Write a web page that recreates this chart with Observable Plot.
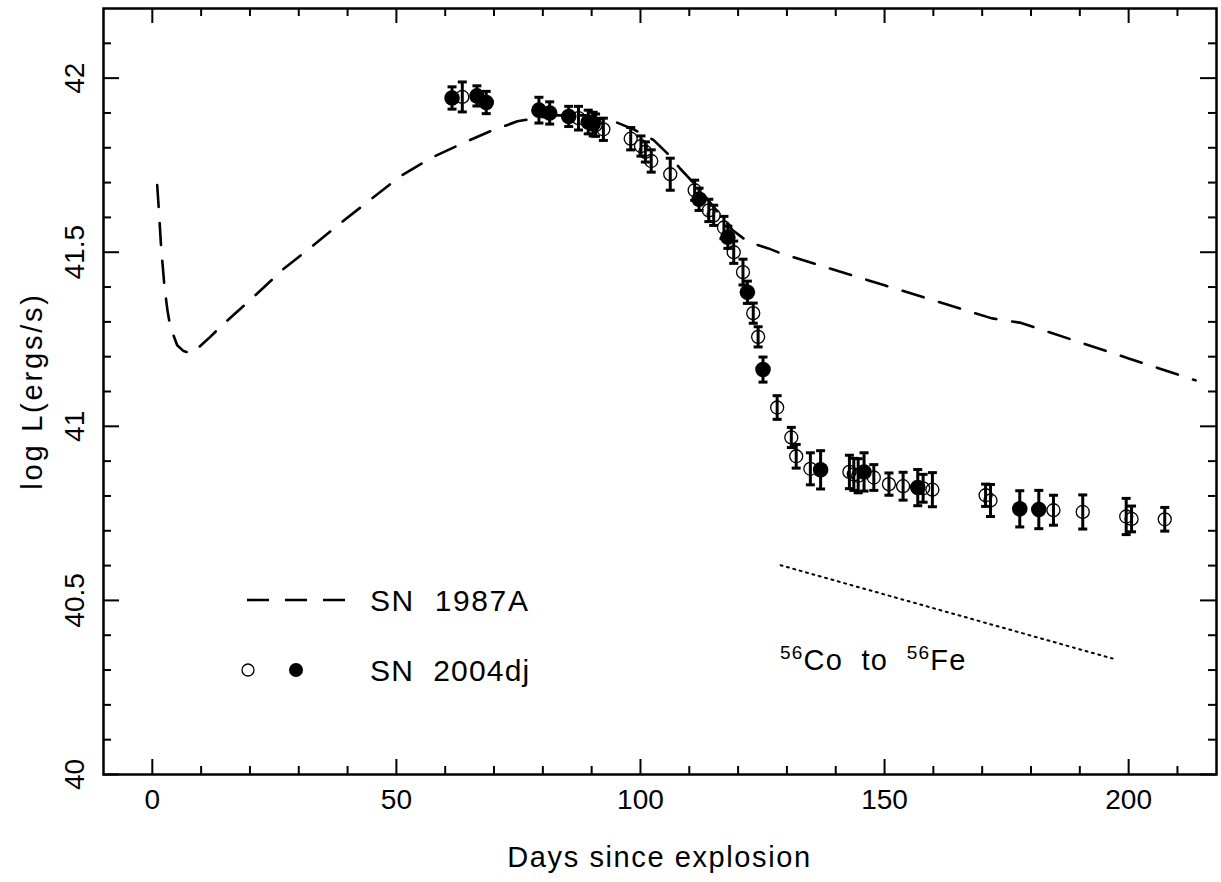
<!DOCTYPE html>
<html><head><meta charset="utf-8">
<script src="https://cdn.jsdelivr.net/npm/d3@7"></script>
<script src="https://cdn.jsdelivr.net/npm/@observablehq/plot@0.6"></script>
<style>
body{margin:0;background:#fff}
#chart{position:relative;width:1221px;height:882px}
</style>
</head><body><div id="chart"></div>
<script>
// SN 2004dj, open circles
const openDays = [63.5,87.3,90.8,92.4,98.0,100.1,101.0,102.2,106.1,111.1,114.0,115.0,117.1,119.1,121.0,123.1,124.1,128.0,130.9,131.9,134.8,142.8,143.7,144.6,147.8,150.9,153.8,157.9,159.8,170.7,171.7,184.6,190.6,199.5,200.6,207.4];
const openLogL = [41.946,41.885,41.865,41.853,41.826,41.805,41.788,41.762,41.724,41.678,41.620,41.606,41.571,41.500,41.443,41.325,41.257,41.054,40.968,40.914,40.878,40.869,40.862,40.858,40.853,40.834,40.828,40.822,40.818,40.802,40.787,40.759,40.754,40.741,40.734,40.733];
const openErr  = [0.043,0.034,0.032,0.032,0.032,0.029,0.029,0.032,0.046,0.029,0.032,0.029,0.032,0.032,0.037,0.029,0.029,0.034,0.029,0.034,0.046,0.048,0.046,0.049,0.037,0.032,0.040,0.040,0.049,0.032,0.046,0.043,0.049,0.052,0.037,0.034];
// SN 2004dj, filled circles
const filledDays = [61.4,66.5,68.4,79.2,81.4,85.3,89.3,90.3,112.0,117.9,121.9,125.1,136.9,145.8,156.8,177.7,181.6];
const filledLogL = [41.943,41.949,41.930,41.908,41.900,41.890,41.874,41.868,41.652,41.543,41.385,41.163,40.875,40.869,40.824,40.763,40.761];
const filledErr  = [0.032,0.029,0.032,0.037,0.032,0.029,0.034,0.034,0.032,0.032,0.032,0.036,0.055,0.055,0.052,0.052,0.055];
// SN 1987A light curve
const sn87Days = [1.0,1.3,1.8,2.5,3.1,3.7,5.1,6.4,8.1,11.5,14.5,20.7,26.8,33.0,39.3,45.7,50.8,57.0,63.1,69.3,74.8,82.0,88.7,94.9,98.7,102.7,105.5,108.2,111.7,118.9,122.1,126.2,128.7,150.0,172.0,178.0,200.0,213.7];
const sn87LogL = [41.693,41.630,41.515,41.400,41.333,41.285,41.233,41.216,41.209,41.252,41.293,41.371,41.451,41.520,41.592,41.662,41.718,41.770,41.810,41.848,41.876,41.893,41.893,41.874,41.852,41.822,41.784,41.739,41.687,41.563,41.529,41.511,41.497,41.405,41.310,41.297,41.195,41.132];
// 56Co -> 56Fe decay slope
const coDays = [128.7,196.7];
const coLogL = [40.601,40.333];
// ticks
const xMajor = [0,50,100,150,200];
const xMinor = [10,20,30,40,60,70,80,90,110,120,130,140,160,170,180,190,210];
const yMajor = [40,40.5,41,41.5,42];
const yMinor = [40.1,40.2,40.3,40.4,40.6,40.7,40.8,40.9,41.1,41.2,41.3,41.4,41.6,41.7,41.8,41.9,42.1];

const openPts = openDays.map((d,i)=>({x:d,y:openLogL[i],e:openErr[i]}));
const filledPts = filledDays.map((d,i)=>({x:d,y:filledLogL[i],e:filledErr[i]}));
const allPts = openPts.concat(filledPts);
const sn87 = sn87Days.map((d,i)=>({x:d,y:sn87LogL[i]}));
const co = coDays.map((d,i)=>({x:d,y:coLogL[i]}));

const W=1221,H=882,mL=103,mR=5,mT=8,mB=108;
const iW=W-mL-mR, iH=H-mT-mB;
const FONT="Liberation Sans";
const cap = {draw(ctx,size){const w=Math.sqrt(size/Math.PI); ctx.moveTo(-w,0); ctx.lineTo(w,0);}};

const chart = Plot.plot({
  width:W,height:H,marginLeft:mL,marginRight:mR,marginTop:mT,marginBottom:mB,
  style:{fontFamily:FONT,fontSize:"27px",background:"#fff",color:"#000"},
  x:{domain:[-10,218]},
  y:{domain:[40,42.2]},
  marks:[
    Plot.line(sn87,{x:"x",y:"y",stroke:"#000",strokeWidth:2.6,strokeDasharray:"22,16",curve:"linear"}),
    Plot.line(co,{x:"x",y:"y",stroke:"#000",strokeWidth:2,strokeDasharray:"2,4.6"}),
    Plot.ruleX(allPts,{x:"x",y1:d=>d.y-d.e,y2:d=>d.y+d.e,stroke:"#000",strokeWidth:3}),
    Plot.dot(allPts,{x:"x",y:d=>d.y-d.e,symbol:cap,r:4.5,stroke:"#000",strokeWidth:3}),
    Plot.dot(allPts,{x:"x",y:d=>d.y+d.e,symbol:cap,r:4.5,stroke:"#000",strokeWidth:3}),
    Plot.dot(openPts,{x:"x",y:"y",r:6.5,stroke:"#000",strokeWidth:1.3,fill:"none"}),
    Plot.dot(filledPts,{x:"x",y:"y",r:7.8,fill:"#000",stroke:"none"}),
    // inward ticks on four sides
    Plot.tickX(xMajor,{x:d=>d,insetTop:iH-15,stroke:"#000",strokeWidth:2}),
    Plot.tickX(xMinor,{x:d=>d,insetTop:iH-8,stroke:"#000",strokeWidth:2}),
    Plot.tickX(xMajor,{x:d=>d,insetBottom:iH-15,stroke:"#000",strokeWidth:2}),
    Plot.tickX(xMinor,{x:d=>d,insetBottom:iH-8,stroke:"#000",strokeWidth:2}),
    Plot.tickY(yMajor,{y:d=>d,insetRight:iW-16,stroke:"#000",strokeWidth:2}),
    Plot.tickY(yMinor,{y:d=>d,insetRight:iW-8,stroke:"#000",strokeWidth:2}),
    Plot.tickY(yMajor,{y:d=>d,insetLeft:iW-16,stroke:"#000",strokeWidth:2}),
    Plot.tickY(yMinor,{y:d=>d,insetLeft:iW-8,stroke:"#000",strokeWidth:2}),
    Plot.axisX({ticks:xMajor,tickSize:0,tickPadding:15,tickFormat:d=>String(d),label:null,fontSize:28}),
    Plot.axisY({ticks:yMajor,tickSize:0,tickRotate:-90,tickPadding:20,tickFormat:d=>String(d),label:null,fontSize:28}),
    Plot.frame({stroke:"#000",strokeWidth:2.5})
  ]
});
document.getElementById("chart").appendChild(chart);

// axis titles, legend and annotation
const svg = d3.select(chart);
const sx = chart.scale("x"), sy = chart.scale("y");
const g = svg.append("g").attr("font-family",FONT).attr("fill","#000")
  .attr("text-anchor","start").style("white-space","pre");
g.append("text").attr("x",(mL+W-mR)/2).attr("y",867).attr("text-anchor","middle")
  .attr("font-size",29).attr("letter-spacing",1.6).text("Days since explosion");
g.append("text").attr("transform",`translate(42,${(mT+H-mB)/2}) rotate(-90)`).attr("text-anchor","middle")
  .attr("font-size",29).attr("letter-spacing",2.8).text("log L(ergs/s)");
g.append("line").attr("x1",247).attr("x2",347).attr("y1",600).attr("y2",600)
  .attr("stroke","#000").attr("stroke-width",2.6).attr("stroke-dasharray","22,16");
g.append("text").attr("x",370).attr("y",611).attr("font-size",30).attr("letter-spacing",1.6).text("SN  1987A");
g.append("circle").attr("cx",248).attr("cy",670).attr("r",6).attr("fill","none").attr("stroke","#000").attr("stroke-width",1.3);
g.append("circle").attr("cx",296).attr("cy",670).attr("r",7).attr("fill","#000");
g.append("text").attr("x",370).attr("y",681).attr("font-size",30).attr("letter-spacing",1.2).text("SN  2004dj");
const t = g.append("text").attr("x",sx.apply(coDays[0])).attr("y",sy.apply(40.3)).attr("font-size",29).attr("letter-spacing",1.2);
t.append("tspan").attr("font-size",19).attr("dy",-11).text("56");
t.append("tspan").attr("dy",11).text("Co  to  ");
t.append("tspan").attr("font-size",19).attr("dy",-11).text("56");
t.append("tspan").attr("dy",11).text("Fe");
</script>
</body></html>
